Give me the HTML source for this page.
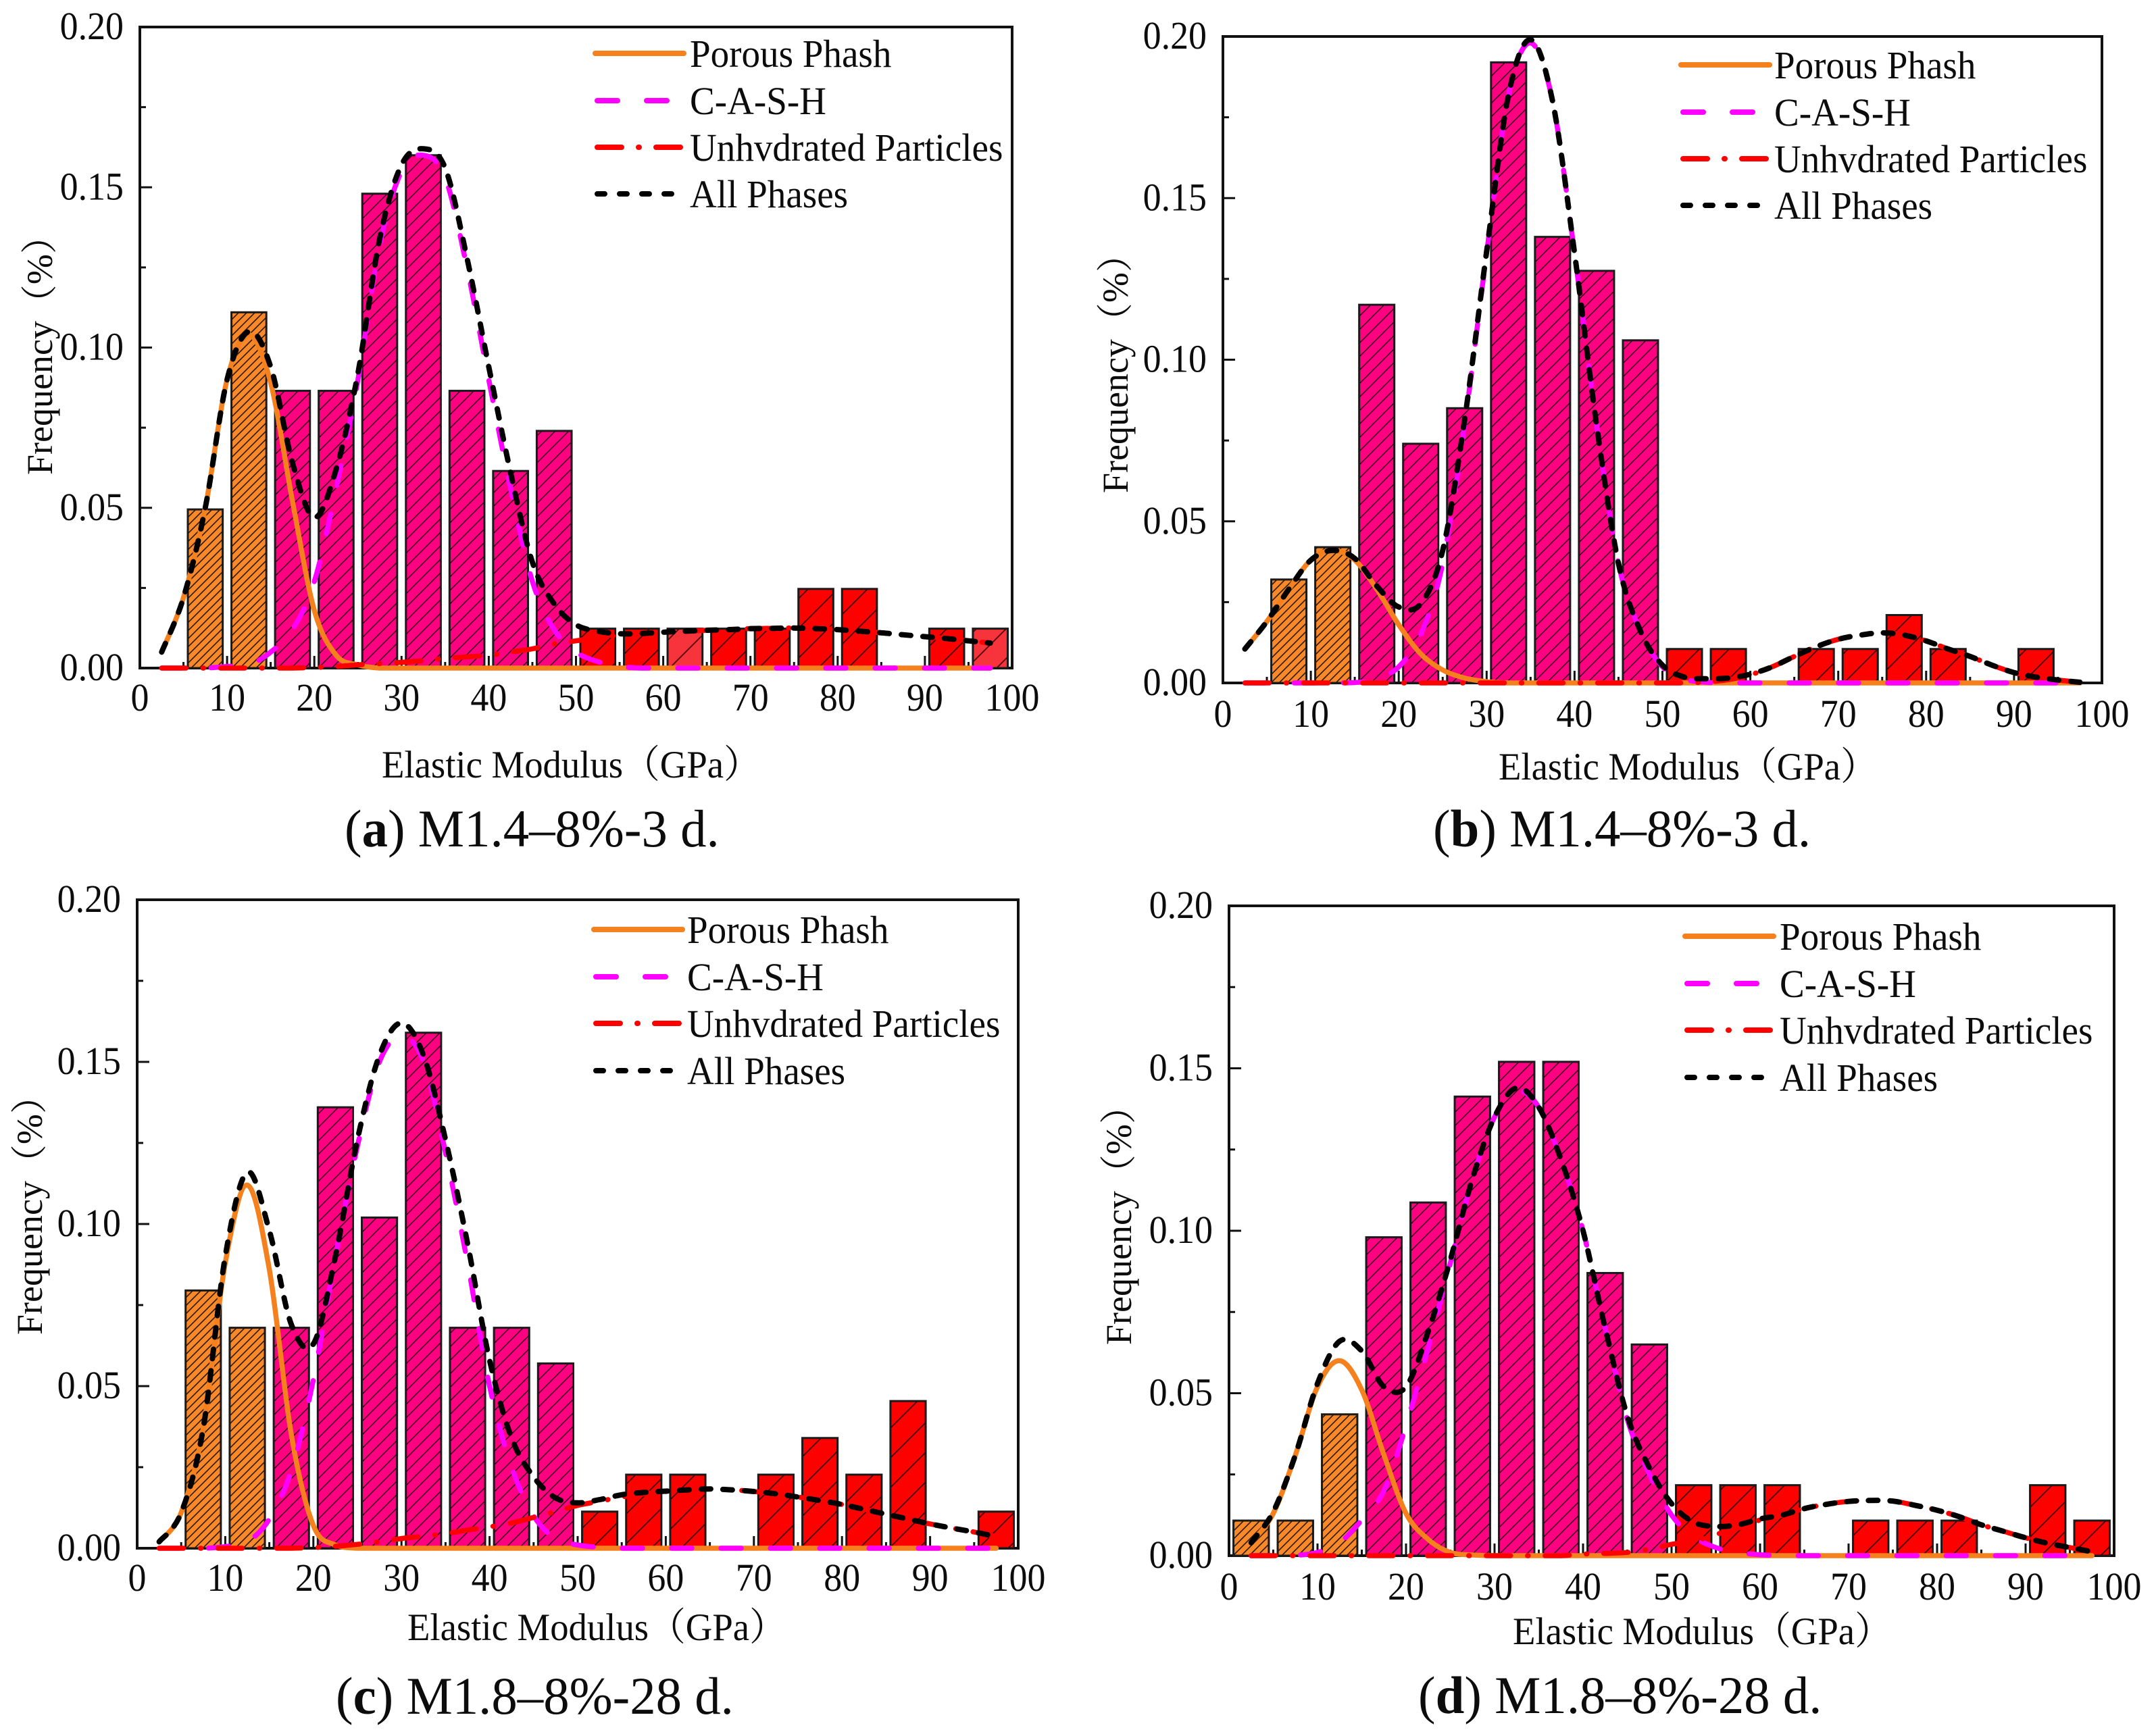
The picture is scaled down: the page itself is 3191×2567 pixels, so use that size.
<!DOCTYPE html>
<html lang="en">
<head>
<meta charset="utf-8">
<title>Elastic modulus frequency distributions</title>
<style>
html,body{margin:0;padding:0;background:#fff;}
svg{display:block;}
text{font-family:"Liberation Serif","Noto Serif CJK SC",serif;fill:#0c0c0c;}
.tick{font-size:58px;}
.leg{font-size:58px;}
.axt{font-size:57px;}
.ayt{font-size:54px;}
.cap{font-size:78px;}
.cap tspan{font-weight:bold;}
</style>
</head>
<body>
<svg id="figure" xmlns="http://www.w3.org/2000/svg" width="3191" height="2567" viewBox="0 0 3191 2567">
  <defs>
    <pattern id="hatch-orange" patternUnits="userSpaceOnUse" width="12" height="12"><rect width="12" height="12" fill="#f8882a"/><path d="M-2 2L2 -2M0 12L12 0M10 14L14 10" stroke="#2a1a08" stroke-width="1.6"/></pattern>
    <pattern id="hatch-pink" patternUnits="userSpaceOnUse" width="20" height="20"><rect width="20" height="20" fill="#ff0080"/><path d="M-2 2L2 -2M0 20L20 0M18 22L22 18" stroke="#300018" stroke-width="1.5"/></pattern>
    <pattern id="hatch-red" patternUnits="userSpaceOnUse" width="44" height="44"><rect width="44" height="44" fill="#fd0000"/><path d="M-2 2L2 -2M0 44L44 0M42 46L46 42" stroke="#400000" stroke-width="1.8"/></pattern>
    <pattern id="hatch-red-pale" patternUnits="userSpaceOnUse" width="44" height="44"><rect width="44" height="44" fill="#f7333b"/><path d="M-2 2L2 -2M0 44L44 0M42 46L46 42" stroke="#500808" stroke-width="1.8"/></pattern>
  </defs>

  <g id="plots"></g>

  <!-- Panel a text -->
  <g>
    <text class="axt" transform="translate(565,1151) scale(.96,1)">Elastic Modulus（GPa）</text>
    <text class="ayt" transform="translate(77,703) rotate(-90)">Frequency（%）</text>
    <text class="cap" transform="translate(510,1253) scale(.985,1)">(<tspan>a</tspan>) M1.4–8%-3 d.</text>
    <g transform="translate(881,79)">
      <line x1="0" x2="131" y1="0" y2="0" stroke="#f5801e" stroke-width="8" stroke-linecap="round"/>
      <line x1="3" x2="112" y1="70" y2="70" stroke="#ff00ff" stroke-width="8" stroke-linecap="round" stroke-dasharray="30 43"/>
      <line x1="3" x2="128" y1="139" y2="139" stroke="#ff0000" stroke-width="8" stroke-linecap="round" stroke-dasharray="36 25 1 25"/>
      <line x1="3" x2="116" y1="208" y2="208" stroke="#000" stroke-width="8" stroke-linecap="round" stroke-dasharray="11 22"/>
      <text class="leg" transform="translate(140,20) scale(.95,1)">Porous Phash</text>
      <text class="leg" transform="translate(140,90) scale(.95,1)">C-A-S-H</text>
      <text class="leg" transform="translate(140,159) scale(.95,1)">Unhvdrated Particles</text>
      <text class="leg" transform="translate(140,228) scale(.95,1)">All Phases</text>
    </g>
  </g>

  <!-- Panel b text -->
  <g>
    <text class="axt" transform="translate(2218,1154) scale(.96,1)">Elastic Modulus（GPa）</text>
    <text class="ayt" transform="translate(1669,730) rotate(-90)">Frequency（%）</text>
    <text class="cap" transform="translate(2121,1253) scale(.985,1)">(<tspan>b</tspan>) M1.4–8%-3 d.</text>
    <g transform="translate(2488,96)">
      <line x1="0" x2="131" y1="0" y2="0" stroke="#f5801e" stroke-width="8" stroke-linecap="round"/>
      <line x1="3" x2="112" y1="70" y2="70" stroke="#ff00ff" stroke-width="8" stroke-linecap="round" stroke-dasharray="30 43"/>
      <line x1="3" x2="128" y1="139" y2="139" stroke="#ff0000" stroke-width="8" stroke-linecap="round" stroke-dasharray="36 25 1 25"/>
      <line x1="3" x2="116" y1="208" y2="208" stroke="#000" stroke-width="8" stroke-linecap="round" stroke-dasharray="11 22"/>
      <text class="leg" transform="translate(138,20) scale(.95,1)">Porous Phash</text>
      <text class="leg" transform="translate(138,90) scale(.95,1)">C-A-S-H</text>
      <text class="leg" transform="translate(138,159) scale(.95,1)">Unhvdrated Particles</text>
      <text class="leg" transform="translate(138,228) scale(.95,1)">All Phases</text>
    </g>
  </g>

  <!-- Panel c text -->
  <g>
    <text class="axt" transform="translate(603,2428) scale(.96,1)">Elastic Modulus（GPa）</text>
    <text class="ayt" transform="translate(62,1976) rotate(-90)">Frequency（%）</text>
    <text class="cap" transform="translate(497,2537) scale(.985,1)">(<tspan>c</tspan>) M1.8–8%-28 d.</text>
    <g transform="translate(879,1376)">
      <line x1="0" x2="131" y1="0" y2="0" stroke="#f5801e" stroke-width="8" stroke-linecap="round"/>
      <line x1="3" x2="112" y1="70" y2="70" stroke="#ff00ff" stroke-width="8" stroke-linecap="round" stroke-dasharray="30 43"/>
      <line x1="3" x2="128" y1="139" y2="139" stroke="#ff0000" stroke-width="8" stroke-linecap="round" stroke-dasharray="36 25 1 25"/>
      <line x1="3" x2="116" y1="209" y2="209" stroke="#000" stroke-width="8" stroke-linecap="round" stroke-dasharray="11 22"/>
      <text class="leg" transform="translate(138,20) scale(.95,1)">Porous Phash</text>
      <text class="leg" transform="translate(138,90) scale(.95,1)">C-A-S-H</text>
      <text class="leg" transform="translate(138,159) scale(.95,1)">Unhvdrated Particles</text>
      <text class="leg" transform="translate(138,229) scale(.95,1)">All Phases</text>
    </g>
  </g>

  <!-- Panel d text -->
  <g>
    <text class="axt" transform="translate(2239,2434) scale(.96,1)">Elastic Modulus（GPa）</text>
    <text class="ayt" transform="translate(1674,1991) rotate(-90)">Frequency（%）</text>
    <text class="cap" transform="translate(2099,2536) scale(.985,1)">(<tspan>d</tspan>) M1.8–8%-28 d.</text>
    <g transform="translate(2494,1386)">
      <line x1="0" x2="131" y1="0" y2="0" stroke="#f5801e" stroke-width="8" stroke-linecap="round"/>
      <line x1="3" x2="112" y1="70" y2="70" stroke="#ff00ff" stroke-width="8" stroke-linecap="round" stroke-dasharray="30 43"/>
      <line x1="3" x2="128" y1="139" y2="139" stroke="#ff0000" stroke-width="8" stroke-linecap="round" stroke-dasharray="36 25 1 25"/>
      <line x1="3" x2="116" y1="209" y2="209" stroke="#000" stroke-width="8" stroke-linecap="round" stroke-dasharray="11 22"/>
      <text class="leg" transform="translate(140,20) scale(.95,1)">Porous Phash</text>
      <text class="leg" transform="translate(140,90) scale(.95,1)">C-A-S-H</text>
      <text class="leg" transform="translate(140,159) scale(.95,1)">Unhvdrated Particles</text>
      <text class="leg" transform="translate(140,229) scale(.95,1)">All Phases</text>
    </g>
  </g>
</svg>

<script>
// ---- categories & tick labels ----
const binCenters = [2.5,7.5,12.5,17.5,22.5,27.5,32.5,37.5,42.5,47.5,52.5,57.5,62.5,67.5,72.5,77.5,82.5,87.5,92.5,97.5];
const curveX = [2.5,5,7.5,10,12.5,15,17.5,20,22.5,25,27.5,30,32.5,35,37.5,40,42.5,45,47.5,50,52.5,55,57.5,60,62.5,65,67.5,70,72.5,75,77.5,80,82.5,85,87.5,90,92.5,95,97.5];
const xTickValues = [0,10,20,30,40,50,60,70,80,90,100];
const xTickLabels = ["0","10","20","30","40","50","60","70","80","90","100"];
const xMinorValues = [5,15,25,35,45,55,65,75,85,95];
const yTickValues = [0,0.05,0.10,0.15,0.20];
const yTickLabels = ["0.00","0.05","0.10","0.15","0.20"];
const yMinorValues = [0.025,0.075,0.125,0.175];

// ---- panel (a) ----
const barsA = [0,.0495,.111,.0865,.0865,.148,.16,.0865,.0615,.074,.0123,.0123,.0123,.0123,.0123,.0247,.0247,0,.0123,.0123];
const paleBinsA = [62.5,97.5];
const porousA = [.005,.022,.05,.09,.104,.089,.052,.018,.004,.001,0,0,0,0,0,0,0,0,0,0,0,0,0,0,0,0,0,0,0,0,0,0,0,0,0,0,0,0,0];
const cashA = [0,0,0,.0005,.001,.005,.012,.027,.056,.09,.132,.155,.16,.153,.125,.09,.056,.027,.012,.005,.002,.0005,0,0,0,0,0,0,0,0,0,0,0,0,0,0,0,0,0];
const unhydratedA = [0,0,0,0,0,0,0,.0002,.0005,.001,.0014,.0018,.0023,.003,.0035,.004,.005,.006,.0075,.0085,.0095,.0102,.0108,.0112,.0115,.0118,.012,.0123,.0124,.0125,.0123,.012,.0115,.011,.0104,.0098,.0092,.0085,.0078];
const allA = [.005,.022,.05,.09,.105,.094,.064,.047,.062,.092,.134,.157,.162,.156,.128,.094,.061,.033,.02,.0135,.0115,.0107,.0108,.0112,.0115,.0118,.012,.0123,.0124,.0125,.0123,.012,.0115,.011,.0104,.0098,.0092,.0085,.0078];

// ---- panel (b) ----
const barsB = [0,.032,.042,.117,.074,.085,.192,.138,.1275,.106,.0105,.0105,0,.0105,.0105,.021,.0105,0,.0105,0];
const paleBinsB = [];
const porousB = [.0105,.019,.029,.038,.041,.038,.029,.018,.009,.004,.0015,.0004,0,0,0,0,0,0,0,0,0,0,0,0,0,0,0,0,0,0,0,0,0,0,0,0,0,0,0];
const cashB = [0,0,0,0,0,.0001,.0012,.005,.015,.037,.08,.133,.182,.198,.18,.133,.08,.037,.016,.005,.0012,.0002,0,0,0,0,0,0,0,0,0,0,0,0,0,0,0,0,0];
const unhydratedB = [0,0,0,0,0,0,0,0,0,0,0,0,0,0,0,0,0,0,0,0,0,.0003,.001,.0025,.005,.0082,.0112,.0135,.0148,.0155,.0148,.013,.0105,.0082,.0055,.0032,.0018,.0009,.0002];
const allB = [.0105,.019,.029,.038,.041,.0385,.03,.0235,.0245,.041,.0815,.1335,.182,.199,.18,.133,.08,.037,.016,.0055,.0018,.0013,.0015,.0027,.005,.0082,.0112,.0135,.0148,.0155,.0148,.013,.0105,.0082,.0055,.0032,.0018,.0009,.0002];

// ---- panel (c) ----
const barsC = [0,.0795,.068,.068,.136,.102,.159,.068,.068,.057,.0113,.0227,.0227,0,.0227,.034,.0227,.0454,0,.0113];
const paleBinsC = [];
const porousC = [.002,.011,.037,.088,.112,.086,.035,.007,.001,0,0,0,0,0,0,0,0,0,0,0,0,0,0,0,0,0,0,0,0,0,0,0,0,0,0,0,0,0,0];
const cashC = [0,0,0,.0005,.002,.009,.024,.052,.09,.124,.15,.158,.15,.122,.088,.05,.025,.01,.003,.001,.0003,0,0,0,0,0,0,0,0,0,0,0,0,0,0,0,0,0,0];
const unhydratedC = [0,0,0,0,0,0,0,.0002,.0006,.0012,.002,.003,.0037,.0045,.0056,.0066,.0078,.0095,.0113,.0132,.0145,.0158,.0168,.0175,.018,.0183,.018,.0175,.0168,.0158,.0147,.0135,.012,.0105,.009,.0075,.0062,.005,.0036];
const allC = [.002,.011,.037,.09,.116,.098,.069,.063,.09,.126,.152,.162,.152,.126,.094,.058,.034,.022,.0155,.014,.015,.0165,.0172,.0176,.018,.0183,.018,.0175,.0168,.0158,.0147,.0135,.012,.0105,.009,.0075,.0062,.005,.0036];

// ---- panel (d) ----
const barsD = [.0108,.0108,.0435,.098,.1087,.1413,.152,.152,.087,.065,.0217,.0217,.0217,0,.0108,.0108,.0108,0,.0217,.0108];
const paleBinsD = [];
const porousD = [.004,.013,.031,.052,.06,.051,.031,.013,.005,.001,.0002,0,0,0,0,0,0,0,0,0,0,0,0,0,0,0,0,0,0,0,0,0,0,0,0,0,0,0,0];
const cashD = [0,0,.0001,.001,.004,.011,.02,.04,.064,.09,.116,.135,.143,.138,.122,.1,.07,.042,.025,.0125,.0058,.0025,.001,.0003,0,0,0,0,0,0,0,0,0,0,0,0,0,0,0];
const unhydratedD = [0,0,0,0,0,0,0,0,0,0,0,0,0,0,0,.0005,.0007,.001,.002,.0035,.0045,.0065,.0085,.011,.0125,.0145,.0158,.0167,.017,.0168,.0155,.014,.012,.0095,.0075,.0055,.0038,.0025,.0012];
const allD = [.004,.0135,.031,.053,.066,.063,.052,.052,.069,.091,.116,.135,.144,.138,.122,.1,.07,.043,.027,.016,.0103,.009,.0095,.0113,.0125,.0145,.0158,.0167,.017,.0168,.0155,.014,.012,.0095,.0075,.0055,.0038,.0025,.0012];

// ---- drawing ----
const SVGNS = 'http://www.w3.org/2000/svg';
const plots = document.getElementById('plots');
const BIN_WIDTH = 4, X_MAX = 100, Y_MAX = 0.2, POROUS_LIMIT = 15, CASH_LIMIT = 50;

const panels = [
  {id:'a', box:{l:207,r:1498,t:40,b:989},   xLabelDy:63, bars:barsA, pale:paleBinsA, porous:porousA, cash:cashA, unhyd:unhydratedA, all:allA},
  {id:'b', box:{l:1810,r:3111,t:54,b:1011}, xLabelDy:65, bars:barsB, pale:paleBinsB, porous:porousB, cash:cashB, unhyd:unhydratedB, all:allB},
  {id:'c', box:{l:203,r:1507,t:1332,b:2292},xLabelDy:63, bars:barsC, pale:paleBinsC, porous:porousC, cash:cashC, unhyd:unhydratedC, all:allC},
  {id:'d', box:{l:1819,r:3129,t:1341,b:2303},xLabelDy:65, bars:barsD, pale:paleBinsD, porous:porousD, cash:cashD, unhyd:unhydratedD, all:allD}
];

function mk(tag, attrs, parent){
  const el = document.createElementNS(SVGNS, tag);
  for (const k in attrs) el.setAttribute(k, attrs[k]);
  parent.appendChild(el);
  return el;
}

function splinePath(xs, ys, sx, sy){
  const pts = xs.map((x,i)=>[sx(x), sy(ys[i])]);
  const floor = sy(0);
  let d = 'M' + pts[0][0].toFixed(1) + ' ' + pts[0][1].toFixed(1);
  for (let i=0;i<pts.length-1;i++){
    const p0 = pts[Math.max(i-1,0)], p1 = pts[i], p2 = pts[i+1], p3 = pts[Math.min(i+2,pts.length-1)];
    const c1x = p1[0]+(p2[0]-p0[0])/6, c1y = Math.min(floor, p1[1]+(p2[1]-p0[1])/6);
    const c2x = p2[0]-(p3[0]-p1[0])/6, c2y = Math.min(floor, p2[1]-(p3[1]-p1[1])/6);
    d += 'C'+c1x.toFixed(1)+' '+c1y.toFixed(1)+' '+c2x.toFixed(1)+' '+c2y.toFixed(1)+' '+p2[0].toFixed(1)+' '+p2[1].toFixed(1);
  }
  return d;
}

panels.forEach(function(p){
  const b = p.box;
  const sx = function(v){ return b.l + (b.r-b.l)*v/X_MAX; };
  const sy = function(v){ return b.b - (b.b-b.t)*v/Y_MAX; };

  const g = mk('g', {}, plots);
  
  

  const frame = mk('rect', {x:b.l, y:b.t, width:b.r-b.l, height:b.b-b.t, fill:'#fff', stroke:'#111', 'stroke-width':4}, g);
  
  

  // ticks
  xTickValues.forEach(function(v,i){
    const t = mk('line', {x1:sx(v), x2:sx(v), y1:b.b, y2:b.b-18, stroke:'#111', 'stroke-width':3}, g);
    
    
    const lab = mk('text', {class:'tick', 'text-anchor':'middle', transform:'translate('+sx(v)+','+(b.b+p.xLabelDy)+') scale(.93,1)'}, g);
    lab.textContent = xTickLabels[i];
    
    
  });
  xMinorValues.forEach(function(v){
    const t = mk('line', {x1:sx(v), x2:sx(v), y1:b.b, y2:b.b-9, stroke:'#111', 'stroke-width':3}, g);
    
    
  });
  yTickValues.forEach(function(v,i){
    const t = mk('line', {x1:b.l, x2:b.l+18, y1:sy(v), y2:sy(v), stroke:'#111', 'stroke-width':3}, g);
    
    
    const lab = mk('text', {class:'tick', 'text-anchor':'end', transform:'translate('+(b.l-24)+','+(sy(v)+18)+') scale(.93,1)'}, g);
    lab.textContent = yTickLabels[i];
    
    
  });
  yMinorValues.forEach(function(v){
    const t = mk('line', {x1:b.l, x2:b.l+9, y1:sy(v), y2:sy(v), stroke:'#111', 'stroke-width':3}, g);
    
    
  });

  // bars
  binCenters.forEach(function(c,i){
    const v = p.bars[i];
    if (!v) return;
    let fill = 'url(#hatch-red)';
    if (c < POROUS_LIMIT) fill = 'url(#hatch-orange)';
    else if (c < CASH_LIMIT) fill = 'url(#hatch-pink)';
    else if (p.pale.indexOf(c) >= 0) fill = 'url(#hatch-red-pale)';
    const r = mk('rect', {x:sx(c-BIN_WIDTH/2), y:sy(v), width:sx(BIN_WIDTH)-sx(0), height:sy(0)-sy(v), fill:fill, stroke:'#1a1a1a', 'stroke-width':3}, g);
    
    
  });

  // curves
  const c1 = mk('path', {d:splinePath(curveX,p.porous,sx,sy), fill:'none', stroke:'#f5801e', 'stroke-width':7.5, 'stroke-linecap':'round', 'stroke-linejoin':'round'}, g);
  
  
  const c2 = mk('path', {d:splinePath(curveX,p.cash,sx,sy), fill:'none', stroke:'#ff00ff', 'stroke-width':7.5, 'stroke-linecap':'round', 'stroke-dasharray':'30 43'}, g);
  
  
  const c3 = mk('path', {d:splinePath(curveX,p.unhyd,sx,sy), fill:'none', stroke:'#ff0000', 'stroke-width':7.5, 'stroke-linecap':'round', 'stroke-dasharray':'36 25 1 25'}, g);
  
  
  const c4 = mk('path', {d:splinePath(curveX,p.all,sx,sy), fill:'none', stroke:'#000', 'stroke-width':8, 'stroke-linecap':'round', 'stroke-dasharray':'14 18'}, g);
  
  
});
</script>
</body>
</html>
